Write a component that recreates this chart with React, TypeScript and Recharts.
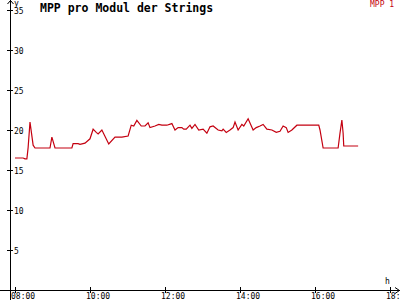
import { Line, LineChart, XAxis, YAxis } from "recharts"

const LINE_COLOR = "#c40010"
const FONT = "'DejaVu Sans Mono', 'Liberation Mono', monospace"

const times = [
  "08:00", "08:13", "08:16", "08:19", "08:21", "08:24", "08:29", "08:32", "08:56", "08:59",
  "09:04", "09:31", "09:33", "09:41", "09:44", "09:52", "10:00", "10:05", "10:10", "10:13",
  "10:19", "10:30", "10:40", "10:51", "11:01", "11:06", "11:10", "11:15", "11:22", "11:28",
  "11:33", "11:36", "11:44", "11:50", "11:55", "12:03", "12:11", "12:16", "12:21", "12:27",
  "12:30", "12:34", "12:40", "12:43", "12:48", "12:54", "13:01", "13:07", "13:12", "13:17",
  "13:25", "13:31", "13:33", "13:38", "13:44", "13:49", "13:52", "13:57", "14:03", "14:06",
  "14:13", "14:21", "14:26", "14:32", "14:37", "14:43", "14:51", "14:58", "15:04", "15:09",
  "15:14", "15:17", "15:23", "15:31", "16:06", "16:08", "16:13", "16:37", "16:40", "16:43",
  "16:45", "16:46", "17:09",
]

const mpp1 = [
  16.5, 16.5, 16.4, 16.4, 17.8, 21.0, 18.1, 17.75, 17.75, 19.1,
  17.75, 17.75, 18.3, 18.3, 18.2, 18.35, 18.9, 20.1, 19.7, 19.5,
  20.0, 18.25, 19.1, 19.1, 19.25, 20.6, 20.5, 21.2, 20.5, 20.5,
  20.9, 20.3, 20.5, 20.7, 20.6, 20.6, 20.8, 20.0, 20.3, 20.3,
  20.1, 20.1, 20.6, 20.2, 20.7, 20.0, 20.1, 19.6, 20.4, 20.5,
  20.0, 19.9, 20.1, 19.7, 20.0, 20.3, 21.0, 20.0, 20.7, 20.5,
  21.4, 20.0, 20.3, 20.5, 20.7, 20.1, 20.0, 19.7, 19.85, 20.5,
  20.3, 19.7, 20.0, 20.6, 20.6, 20.0, 17.75, 17.75, 19.6, 21.25,
  19.6, 18.0, 18.0,
]

const xTicks = [480, 600, 720, 840, 960, 1080]
const yTicks = [5, 10, 15, 20, 25, 30, 35]

const toMinutes = (s: string) => {
  const [h, m] = s.split(":").map(Number)
  return h * 60 + m
}

const fmtTime = (v: number) => {
  const h = Math.floor(v / 60)
  return `${String(h).padStart(2, "0")}:00`
}

const data = times.map((t, i) => ({ t: toMinutes(t), v: mpp1[i] }))

function XTick({ x, y, payload }: any) {
  const px = Math.round(x) + 0.5
  return (
    <g>
      <line x1={px} x2={px} y1={y - 3} y2={y + 3} stroke="#000" strokeWidth={1} shapeRendering="crispEdges" />
      <text x={px - 4.5} y={y + 9} fontSize={8} fontFamily={FONT} fill="#000">
        {fmtTime(payload.value)}
      </text>
    </g>
  )
}

function YTick({ x, y, payload }: any) {
  const py = Math.round(y) + 0.5
  return (
    <g>
      <line x1={x - 3} x2={x + 3} y1={py} y2={py} stroke="#000" strokeWidth={1} shapeRendering="crispEdges" />
      <text x={x + 4} y={py + 3} fontSize={8} fontFamily={FONT} fill="#000">
        {payload.value}
      </text>
    </g>
  )
}

export default function App() {
  return (
    <div style={{ position: "relative", width: 400, height: 300, background: "#fff" }}>
      <style>{"body{margin:0}"}</style>
      <LineChart width={400} height={300} data={data} margin={{ top: 10, right: 10, bottom: 0, left: 0 }}>
        <XAxis
          dataKey="t"
          type="number"
          domain={[472, 1080]}
          ticks={xTicks}
          axisLine={false}
          tickLine={false}
          tickSize={0}
          tickMargin={0}
          height={10}
          tick={XTick}
          interval={0}
          allowDataOverflow
        />
        <YAxis
          type="number"
          domain={[0, 35]}
          ticks={yTicks}
          axisLine={false}
          tickLine={false}
          tickSize={0}
          tickMargin={0}
          width={10}
          tick={YTick}
          interval={0}
        />
        <Line
          type="linear"
          dataKey="v"
          stroke={LINE_COLOR}
          strokeWidth={1.2}
          dot={false}
          isAnimationActive={false}
        />
      </LineChart>
      <svg
        width={400}
        height={300}
        style={{ position: "absolute", left: 0, top: 0, pointerEvents: "none" }}
      >
        <line x1={10.5} x2={10.5} y1={0} y2={300} stroke="#000" shapeRendering="crispEdges" />
        <line x1={0} x2={400} y1={290.5} y2={290.5} stroke="#000" shapeRendering="crispEdges" />
        <polyline points="7.5,4 10.5,0.5 13.5,4" fill="none" stroke="#000" />
        <polyline points="395,287.5 399.5,290.5 395,293.5" fill="none" stroke="#000" />
        <text x={14} y={6} fontSize={8} fontFamily={FONT} fill="#000">y</text>
        <text x={385} y={284} fontSize={8} fontFamily={FONT} fill="#000">h</text>
        <text x={40} y={12} fontSize={11.5} fontWeight="bold" fontFamily={FONT} fill="#000">
          MPP pro Modul der Strings
        </text>
        <text x={370} y={7} fontSize={8} fontFamily={FONT} fill={LINE_COLOR}>MPP 1</text>
      </svg>
    </div>
  )
}
